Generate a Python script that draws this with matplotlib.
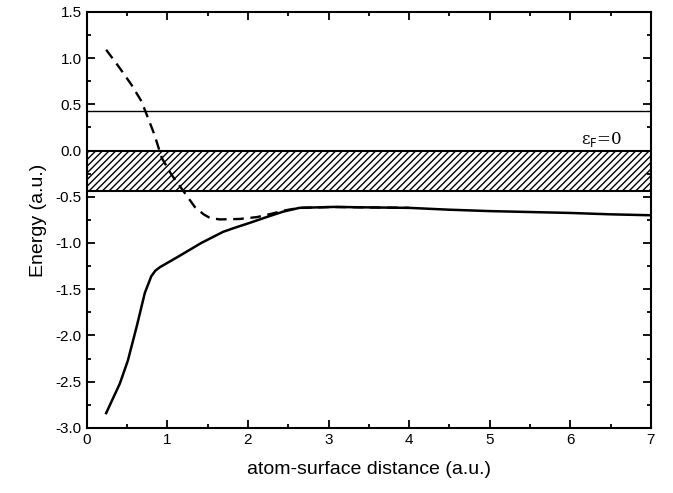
import matplotlib
matplotlib.use("Agg")
import matplotlib.pyplot as plt
from matplotlib.ticker import MultipleLocator, FormatStrFormatter

plt.rcParams['font.family'] = ['Liberation Sans', 'DejaVu Sans']

# solid curve
solid_x = [0.24, 0.41, 0.51, 0.62, 0.72, 0.80, 0.85, 0.91, 1.13, 1.42, 1.69, 1.82, 2.03, 2.23, 2.44, 2.64, 3.06,
           3.5, 4.0, 4.5, 5.0, 5.5, 6.0, 6.5, 7.0]
solid_y = [-2.84, -2.52, -2.27, -1.90, -1.54, -1.36, -1.30, -1.26, -1.15, -1.00, -0.88, -0.84, -0.78, -0.72, -0.66,
           -0.62, -0.61, -0.615, -0.62, -0.64, -0.655, -0.665, -0.675, -0.69, -0.70]

# dashed curve
dash_x = [0.24, 0.41, 0.555, 0.68, 0.76, 0.84, 0.93, 1.05, 1.20, 1.34, 1.45, 1.53, 1.65, 1.90, 2.11, 2.31, 2.44,
          2.64, 3.06, 3.5, 4.0]
dash_y = [1.09, 0.89, 0.71, 0.53, 0.35, 0.17, -0.08, -0.26, -0.44, -0.61, -0.69, -0.73, -0.745, -0.74, -0.72, -0.68,
          -0.65, -0.62, -0.61, -0.615, -0.62]

level_y = 0.43
band_top = 0.0
band_bottom = -0.44

fig = plt.figure(figsize=(6.73, 4.93), dpi=100)
ax = fig.add_axes([0.129, 0.132, 0.838, 0.844])

ax.plot(solid_x, solid_y, color='black', lw=1.8)
ax.plot(dash_x, dash_y, color='black', lw=1.7, linestyle=(0, (4.5, 2.8)))
ax.axhline(level_y, color='black', lw=1.0)
ax.fill_between([0, 7], band_bottom, band_top, facecolor='white', edgecolor='black',
                hatch='/////', lw=1.5)
ax.text(6.13, 0.07, 'ε$_{\\mathrm{F}}$=0', fontsize=12, family=['DejaVu Serif'])

ax.set_xlim(0, 7)
ax.set_ylim(-3.0, 1.5)
ax.xaxis.set_major_locator(MultipleLocator(1))
ax.xaxis.set_minor_locator(MultipleLocator(0.5))
ax.yaxis.set_major_locator(MultipleLocator(0.5))
ax.yaxis.set_minor_locator(MultipleLocator(0.25))
ax.yaxis.set_major_formatter(FormatStrFormatter('%.1f'))
ax.tick_params(which='both', direction='in', top=True, right=True, width=1.3)
ax.tick_params(which='major', length=6, labelsize=11)
ax.tick_params(which='minor', length=3)
for s in ax.spines.values():
    s.set_linewidth(1.5)

ax.set_xlabel('atom-surface distance (a.u.)', fontsize=14, labelpad=10)
ax.set_ylabel('Energy (a.u.)', fontsize=14, labelpad=6)

fig.savefig('out.png', dpi=100)
